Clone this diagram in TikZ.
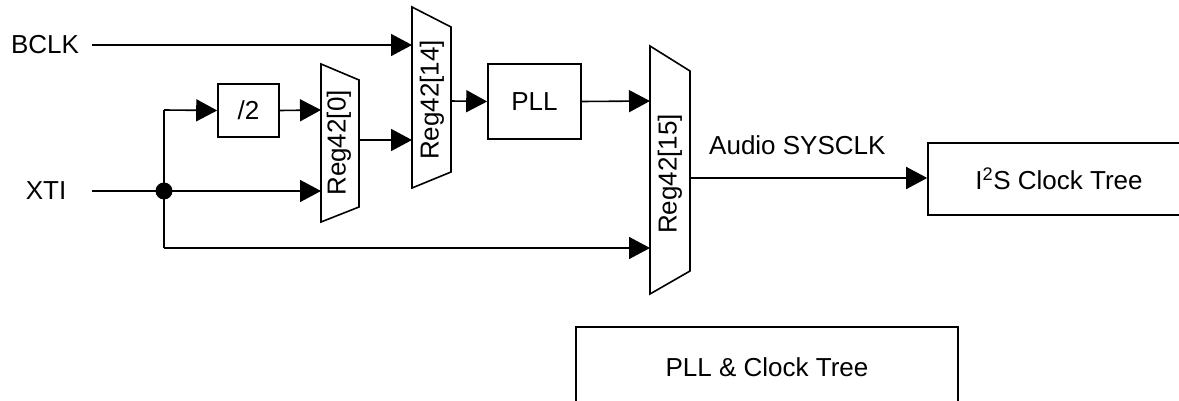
\documentclass[tikz,border=0pt]{standalone}
\usepackage{fontspec}
\setmainfont{Liberation Sans}
\usetikzlibrary{arrows.meta}
\begin{document}
\begin{tikzpicture}[x=1pt,y=-1pt,
  wire/.style={line width=1.6pt},
  arr/.style={wire,-{Triangle[length=21pt,width=22pt]}},
  blk/.style={draw,line width=1.6pt},
  lbl/.style={font=\fontsize{26}{30}\selectfont,inner sep=0pt},
  muxshape/.style={draw,line width=1.6pt,line join=miter}]
\useasboundingbox (0,0) rectangle (1179,401);
\clip (0,0) rectangle (1179,401);
% texts
\node[lbl] (bclk) at (45,45) {BCLK};
\node[lbl] (xti) at (46,191) {XTI};
% ports
\coordinate (bclkout) at (92,45);
\coordinate (xtiout) at (92,191);
\coordinate (split) at (164,191);
\coordinate (splittop) at (164,110);
\coordinate (splitbot) at (164,248);
% mux 0
\draw[muxshape] (321,64) -- (359,80) -- (359,207) -- (321,222) -- cycle;
\node[lbl,rotate=90] (m0) at (339,143) {Reg42[0]};
\coordinate (m0a) at (321,110);
\coordinate (m0b) at (321,191);
\coordinate (m0o) at (359,140);
% mux 14
\draw[muxshape] (412,7) -- (451,27) -- (451,172) -- (412,188) -- cycle;
\node[lbl,rotate=90] (m14) at (432,100) {Reg42[14]};
\coordinate (m14a) at (412,45);
\coordinate (m14b) at (412,140);
\coordinate (m14o) at (451,101);
% mux 15
\draw[muxshape] (650,46) -- (690,71) -- (690,271) -- (650,294) -- cycle;
\node[lbl,rotate=90] (m15) at (670,174) {Reg42[15]};
\coordinate (m15a) at (650,101);
\coordinate (m15b) at (650,248);
\coordinate (m15o) at (690,178);
% blocks
\node[blk,lbl,minimum width=61pt,minimum height=53pt] (div) at (248.5,110.5) {/2};
\node[blk,lbl,minimum width=93pt,minimum height=75pt] (pll) at (534.5,101.5) {PLL};
\node[blk,lbl,minimum width=262pt,minimum height=72pt] (i2s) at (1059,179) {I\textsuperscript{2}S Clock Tree};
\node[blk,lbl,minimum width=382pt,minimum height=100pt] (tree) at (767,377) {};
\node[lbl] (treet) at (767,367) {PLL \& Clock Tree};
\node[lbl,anchor=west] (sys) at (709,145) {Audio SYSCLK};
% connectors
\draw[arr] (bclkout) -- (m14a);
\draw[wire] (xtiout) -- (split);
\draw[arr] (split) -- (m0b);
\draw[wire] (splittop) -- (splitbot);
\draw[arr] (splittop) -- (div.west);
\draw[arr] (div.east) -- (m0a);
\draw[arr] (splitbot) -- (m15b);
\draw[arr] (m0o) -- (m14b);
\draw[arr] (m14o) -- (pll.west);
\draw[arr] (pll.east) -- (m15a);
\draw[arr] (m15o) -- (i2s.west |- m15o);
\fill (split) circle (8.5pt);
\end{tikzpicture}
\end{document}
